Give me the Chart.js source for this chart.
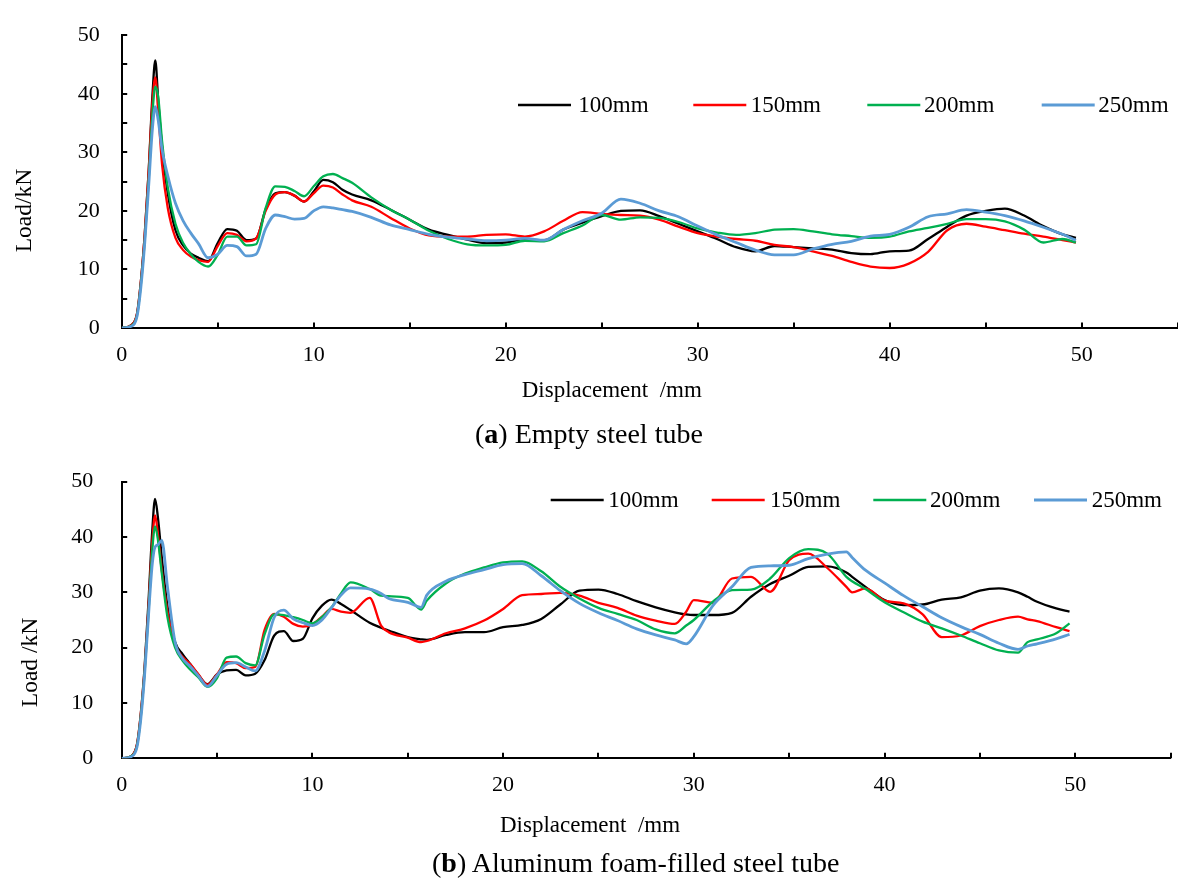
<!DOCTYPE html>
<html><head><meta charset="utf-8">
<script src="https://cdn.jsdelivr.net/npm/chart.js@4.4.0/dist/chart.umd.min.js"></script>
<style>
html,body{margin:0;padding:0;background:#fff;}
#page{position:relative;width:1178px;height:884px;overflow:hidden;background:#fff;}
canvas{position:absolute;left:0;}
#cA{top:0;}
#cB{top:440px;}
#ov{position:absolute;left:0;top:0;}
</style></head><body>
<div id="page">
<canvas id="cA" width="1178" height="372"></canvas>
<canvas id="cB" width="1178" height="360"></canvas>
<svg id="ov" width="1178" height="884" xmlns="http://www.w3.org/2000/svg"></svg>
</div>
<script>
// ---------- data ----------
const seriesNames = ['100mm', '150mm', '200mm', '250mm'];
const seriesColors = ['#000000', '#FF0000', '#00B050', '#5B9BD5'];
const xTickLabels = [0, 10, 20, 30, 40, 50];
const yTickLabels = [0, 10, 20, 30, 40, 50];

// (a) Empty steel tube
const xA = [0,0.5,0.8,1.0,1.2,1.4,1.6,1.75,1.9,2.1,2.4,2.8,3.2,3.6,4.0,4.5,5.0,5.5,6.0,6.5,7.0,7.5,8.0,8.5,9.0,9.5,10.0,10.5,11.0,11.5,12,13,14,15,16,17,18,19,20,21,22,23,24,25,26,27,28,29,30,31,32,33,34,35,36,37,38,39,40,41,42,43,44,45,46,47,48,49,49.7];
const a100 = [0,0.5,2.5,8,16,26.5,39.7,45.7,39,31,23,16.7,14.1,12.7,12.0,11.4,14.5,16.9,16.6,15.0,15.3,20.3,23.0,23.2,22.6,21.6,23.3,25.3,24.9,23.6,22.8,21.8,20.2,18.5,16.8,15.9,15.1,14.5,14.6,15.1,15.0,16.8,18.0,19.1,20.0,20.1,19.1,17.8,16.5,15.2,13.8,13.1,14.0,13.8,13.6,13.4,12.8,12.6,13.1,13.2,15.2,17.3,19.2,20.0,20.4,19.2,17.4,16.0,15.4];
const a150 = [0,0.5,2.5,8,16,26.5,38.5,42.8,37,28,20.5,15.4,13.3,12.2,11.6,11.3,14.0,16.2,15.9,14.8,15.3,20.0,22.8,23.2,22.6,21.6,23.0,24.3,24.0,22.8,21.8,20.7,18.8,17.0,15.8,15.6,15.6,15.9,16.0,15.6,16.5,18.3,19.8,19.5,19.3,19.2,18.5,17.3,16.2,15.6,15.2,14.9,14.2,13.8,13.1,12.3,11.3,10.5,10.25,11.0,13.0,16.7,17.8,17.3,16.7,16.1,15.6,15.0,14.6];
const a200 = [0,0.4,2.2,7.5,15,25,36.5,41.2,39.5,32,24,17.8,14.5,12.6,11.3,10.5,12.5,15.6,15.6,14.1,14.3,20.5,24.2,24.1,23.4,22.5,24.2,25.9,26.3,25.6,24.8,22.3,20.2,18.5,16.6,15.2,14.3,14.1,14.2,14.9,14.8,16.2,17.5,19.3,18.5,18.9,18.8,18.1,17.0,16.3,15.9,16.2,16.8,16.9,16.5,16.0,15.7,15.4,15.6,16.5,17.1,17.8,18.6,18.6,18.2,16.8,14.6,15.2,14.6];
const a250 = [0,0.3,2.0,7,14.5,24,34,37.8,35.5,30.5,26.0,21.3,18.3,16.2,14.4,12.0,12.6,14.1,13.9,12.3,12.6,17.0,19.3,19.0,18.6,18.7,20.0,20.7,20.5,20.2,19.9,18.9,17.6,16.8,16.0,15.5,15.2,14.9,15.0,15.3,15.0,16.8,18.3,19.6,22.0,21.3,20.0,19.0,17.4,15.9,14.6,13.3,12.5,12.5,13.5,14.3,14.8,15.7,16.0,17.2,19.0,19.5,20.2,19.8,19.2,18.3,17.2,16.0,15.0];

// (b) Aluminum foam-filled steel tube
const xB = [0,0.5,0.8,1.0,1.2,1.4,1.6,1.75,1.9,2.1,2.4,2.8,3.2,3.6,4.0,4.5,5.0,5.5,6.0,6.5,7.0,7.5,8.0,8.5,9.0,9.5,10.0,10.5,11.0,11.5,12,13,13.6,14,15,15.7,16,17,18,19,20,21,22,23,24,25,26,27,28,29,29.6,30,31,32,33,34,35,36,37,38,38.3,39,40,41,42,43,44,45,46,47,47.5,48,49,49.7];
const b100 = [0,0.4,2.5,8,16.5,28,41,46.9,43.5,36.4,27.5,21.0,18.8,17.0,15.2,13.4,15.2,15.9,16.0,15.0,15.3,17.8,22.2,23.0,21.2,21.6,25.3,27.6,28.7,27.9,26.8,24.5,23.6,23.1,21.9,21.5,21.4,22.3,22.8,22.8,23.7,24.1,25.2,27.8,30.3,30.5,29.7,28.4,27.3,26.4,26.0,25.9,25.9,26.3,29.2,31.5,33.0,34.6,34.7,33.6,32.8,31.0,28.6,27.7,27.8,28.7,29.1,30.3,30.7,30.0,29.2,28.3,27.1,26.5];
const b150 = [0,0.4,2.5,8,16,27,39,43.9,40.5,34,26.5,20.5,18.3,17.0,15.3,13.3,15.2,17.4,17.2,16.3,16.5,23.3,26.1,25.6,24.3,23.8,24.2,25.6,27.0,26.5,26.3,29.0,24.0,22.8,21.8,21.0,21.2,22.6,23.5,24.9,27.0,29.5,29.7,29.9,29.4,28.1,27.2,25.8,24.9,24.3,26.5,28.6,28.1,32.5,32.8,30.1,35.8,37.0,34.4,31.0,30.0,30.7,28.5,28.0,26.0,21.9,22.2,23.9,25.0,25.6,25.1,24.8,23.7,23.0];
const b200 = [0,0.4,2.2,7.5,15.5,26,37.5,41.9,39.5,33.5,25.5,20.0,17.6,16.0,14.7,12.9,14.5,18.2,18.4,17.2,16.8,22.5,26.0,25.9,25.5,25.0,24.4,25.5,27.3,29.8,31.8,30.6,29.4,29.3,29.0,26.9,28.5,31.6,33.4,34.5,35.4,35.6,33.8,31.0,28.9,27.2,26.1,25.0,23.3,22.6,24.0,25.0,28.3,30.4,30.5,32.5,36.2,37.8,37.0,32.8,32.0,30.6,28.2,26.4,24.7,23.5,22.2,20.8,19.5,19.1,21.0,21.5,22.6,24.4];
const b250 = [0,0.3,2.0,7,15,25.5,35,38.2,38.6,39.4,31,21.0,18.0,16.6,15.0,13.0,15.0,17.0,17.3,16.5,15.8,19.5,25.5,26.8,25.2,24.5,24.0,25.0,27.2,29.5,30.8,30.6,29.8,28.9,28.2,27.3,29.5,32.0,33.2,34.1,35.0,35.2,33.0,30.3,28.0,26.3,24.9,23.4,22.3,21.4,20.7,22.0,27.6,31.0,34.5,34.8,34.9,36.1,36.9,37.3,36.3,34.0,31.7,29.4,27.4,25.4,23.8,22.4,20.8,19.7,20.3,20.7,21.6,22.4];

// ---------- helpers ----------
const seriesWidths = [2.3, 2.3, 2.3, 2.8];
function pts(xs, ys) { return xs.map((x, i) => ({ x: x, y: ys[i] })); }

const innerTicks = {
  id: 'innerTicks',
  afterDraw(chart, args, o) {
    const { ctx, chartArea: a, scales: { x, y } } = chart;
    ctx.save();
    ctx.strokeStyle = '#000';
    ctx.lineWidth = 2;
    ctx.beginPath();
    for (let v = x.min + o.xStep; v <= x.max + 1e-6; v += o.xStep) {
      const p = Math.round(x.getPixelForValue(v));
      ctx.moveTo(p, a.bottom); ctx.lineTo(p, a.bottom - o.len);
    }
    for (let v = y.min + o.yStep; v <= y.max + 1e-6; v += o.yStep) {
      const p = Math.round(y.getPixelForValue(v));
      ctx.moveTo(a.left, p); ctx.lineTo(a.left + o.len, p);
    }
    ctx.stroke();
    ctx.restore();
  }
};

function makeChart(id, xs, ys, cfg) {
  return new Chart(document.getElementById(id), {
    type: 'line',
    data: {
      datasets: ys.map((arr, i) => ({
        label: seriesNames[i],
        data: pts(xs, arr),
        borderColor: seriesColors[i],
        backgroundColor: seriesColors[i],
        borderWidth: seriesWidths[i],
        pointRadius: 0,
        fill: false,
        cubicInterpolationMode: 'monotone',
        order: 3 - i
      }))
    },
    options: {
      responsive: false,
      animation: false,
      devicePixelRatio: 1,
      layout: { padding: cfg.padding },
      plugins: {
        legend: { display: false },
        tooltip: { enabled: false },
        innerTicks: { xStep: 5, yStep: cfg.yStep, len: 5.5 }
      },
      scales: {
        x: {
          type: 'linear', min: 0, max: 55,
          afterFit(s) { s.height = cfg.xHeight; },
          grid: { drawOnChartArea: false, drawTicks: false },
          border: { display: true, color: '#000', width: 2 },
          ticks: {
            stepSize: 10, includeBounds: false, autoSkip: false, maxRotation: 0,
            padding: 14, color: '#000',
            font: { family: 'Liberation Serif', size: 22 },
            callback: (v) => xTickLabels.includes(v) ? String(v) : ''
          }
        },
        y: {
          type: 'linear', min: 0, max: 50,
          afterFit(s) { s.width = 121.7; },
          grid: { drawOnChartArea: false, drawTicks: false },
          border: { display: true, color: '#000', width: 2 },
          ticks: {
            stepSize: 10, padding: cfg.yPad, color: '#000',
            font: { family: 'Liberation Serif', size: 22 },
            callback: (v) => yTickLabels.includes(v) ? String(v) : ''
          }
        }
      }
    },
    plugins: [innerTicks]
  });
}

makeChart('cA', xA, [a100, a150, a200, a250], {
  padding: { top: 24, left: 0, right: 0.3, bottom: 0 }, xHeight: 44, yStep: 5, yPad: 22
});
makeChart('cB', xB, [b100, b150, b200, b250], {
  padding: { top: 31.7, left: 0, right: 7.4, bottom: 0 }, xHeight: 35, yStep: 10, yPad: 28.5
});

// ---------- text overlay ----------
const NS = 'http://www.w3.org/2000/svg';
const ov = document.getElementById('ov');
function txt(x, y, str, size, opt) {
  opt = opt || {};
  const t = document.createElementNS(NS, 'text');
  t.setAttribute('x', x); t.setAttribute('y', y);
  t.setAttribute('font-family', 'Liberation Serif');
  t.setAttribute('font-size', size);
  t.setAttribute('fill', '#000');
  if (opt.anchor) t.setAttribute('text-anchor', opt.anchor);
  if (opt.transform) t.setAttribute('transform', opt.transform);
  if (str !== null) t.textContent = str;
  ov.appendChild(t);
  return t;
}
function seg(x1, y1, x2, y2, color, w) {
  const l = document.createElementNS(NS, 'line');
  l.setAttribute('x1', x1); l.setAttribute('y1', y1);
  l.setAttribute('x2', x2); l.setAttribute('y2', y2);
  l.setAttribute('stroke', color); l.setAttribute('stroke-width', w);
  ov.appendChild(l);
}
function legend(lineX, textX, ly, baseline) {
  seriesNames.forEach((n, i) => {
    seg(lineX[i], ly, lineX[i] + 53, ly, seriesColors[i], seriesWidths[i] + 0.3);
    txt(textX[i], baseline, n, 23);
  });
}
legend([518, 693.3, 867.3, 1041.7], [578.3, 750.7, 924, 1098.3], 105, 112);
legend([550.7, 711.7, 873.3, 1034], [608.3, 770, 930, 1091.7], 500, 507);

txt(0, 0, 'Load/kN', 23.5, { anchor: 'middle', transform: 'translate(31,210.5) rotate(-90)' });
txt(0, 0, 'Load /kN', 23.5, { anchor: 'middle', transform: 'translate(36.5,662.5) rotate(-90)' });
txt(521.7, 397, 'Displacement\u00A0 /mm', 23);
txt(500, 832, 'Displacement\u00A0 /mm', 23);

function caption(x, y, letter, rest) {
  const t = txt(x, y, null, 28);
  t.appendChild(document.createTextNode('('));
  const b = document.createElementNS(NS, 'tspan');
  b.setAttribute('font-weight', 'bold');
  b.textContent = letter;
  t.appendChild(b);
  t.appendChild(document.createTextNode(') ' + rest));
}
caption(475, 443, 'a', 'Empty steel tube');
caption(432, 872, 'b', 'Aluminum foam-filled steel tube');
</script>
</body></html>
